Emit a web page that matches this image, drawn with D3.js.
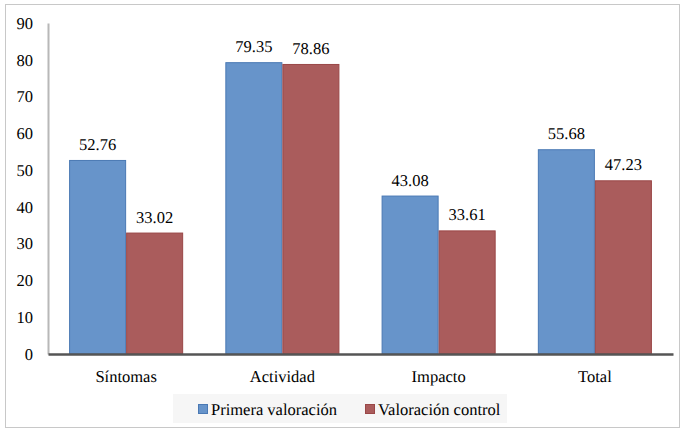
<!DOCTYPE html>
<html>
<head>
<meta charset="utf-8">
<script src="https://cdn.jsdelivr.net/npm/d3@7/dist/d3.min.js"></script>
</head>
<body style="margin:0;background:#fff">
<script>
// Scores per dimension, first assessment vs. follow-up
const categories = ["Síntomas", "Actividad", "Impacto", "Total"];
const seriesNames = ["Primera valoración", "Valoración control"];
const primera = [52.76, 79.35, 43.08, 55.68];
const control = [33.02, 78.86, 33.61, 47.23];
const yTicks = [0, 10, 20, 30, 40, 50, 60, 70, 80, 90];

const W = 685, H = 431;
const margin = { left: 48, right: 12, top: 23, bottom: 77 };
const fills = ["#6794CA", "#AA5C5C"];
const strokes = ["#4A79B4", "#9A4747"];
const FONT = "'Liberation Serif', 'Times New Roman', serif";

const svg = d3.select("body").append("svg")
  .attr("width", W).attr("height", H)
  .style("display", "block");

function serif(sel) {
  return sel.style("font-family", FONT)
    .style("font-size", "16.5px")
    .style("text-rendering", "geometricPrecision")
    .style("fill", "#000");
}

// chart frame
svg.append("rect")
  .attr("x", 5.5).attr("y", 4.5)
  .attr("width", W - 11).attr("height", H - 8)
  .attr("fill", "#fff").attr("stroke", "#c8c8c8").attr("stroke-width", 1);

const x0 = d3.scaleBand()
  .domain(categories)
  .range([margin.left, W - margin.right])
  .paddingInner(0.27).paddingOuter(0.135);

const x1 = d3.scaleBand()
  .domain(seriesNames)
  .range([0, x0.bandwidth()]);

const y = d3.scaleLinear()
  .domain([0, 90])
  .range([H - margin.bottom, margin.top]);

// y axis
const gy = svg.append("g")
  .attr("transform", `translate(${margin.left},0)`)
  .call(d3.axisLeft(y).tickValues(yTicks).tickSize(0).tickPadding(15));
gy.select(".domain").attr("stroke", "#b8b8b8").attr("stroke-width", 2);
serif(gy.selectAll("text"));

const rows = categories.map((c, i) => ({ cat: c, vals: [primera[i], control[i]] }));

// bars
const groups = svg.append("g").selectAll("g")
  .data(rows).join("g")
  .attr("transform", d => `translate(${x0(d.cat)},0)`);

groups.selectAll("rect")
  .data(d => d.vals.map((v, k) => ({ v, k })))
  .join("rect")
  .attr("x", d => x1(seriesNames[d.k]) + 0.5)
  .attr("y", d => y(d.v) + 0.5)
  .attr("width", x1.bandwidth() - 1)
  .attr("height", d => y(0) - y(d.v) - 0.5)
  .attr("fill", d => fills[d.k])
  .attr("stroke", d => strokes[d.k])
  .attr("stroke-width", 1);

// value labels
serif(groups.selectAll("text.val")
  .data(d => d.vals.map((v, k) => ({ v, k })))
  .join("text")
  .attr("class", "val")
  .attr("x", d => x1(seriesNames[d.k]) + x1.bandwidth() / 2)
  .attr("y", d => y(d.v) - 10)
  .attr("text-anchor", "middle")
  .text(d => d.v.toFixed(2)));

// x axis
const gx = svg.append("g")
  .attr("transform", `translate(0,${y(0)})`)
  .call(d3.axisBottom(x0).tickSize(0).tickPadding(16));
gx.select(".domain").attr("stroke", "#555").attr("stroke-width", 2.5);
serif(gx.selectAll("text"));

// legend
const leg = svg.append("g");
leg.append("rect")
  .attr("x", 173).attr("y", 394).attr("width", 334).attr("height", 29)
  .attr("fill", "#f6f6f6");
const legX = [198, 365];
seriesNames.forEach((name, k) => {
  leg.append("rect")
    .attr("x", legX[k] + 0.5).attr("y", 404.5)
    .attr("width", 9).attr("height", 9)
    .attr("fill", fills[k]).attr("stroke", strokes[k]);
  serif(leg.append("text")
    .attr("x", legX[k] + 13).attr("y", 415)
    .text(name));
});
</script>
</body>
</html>
